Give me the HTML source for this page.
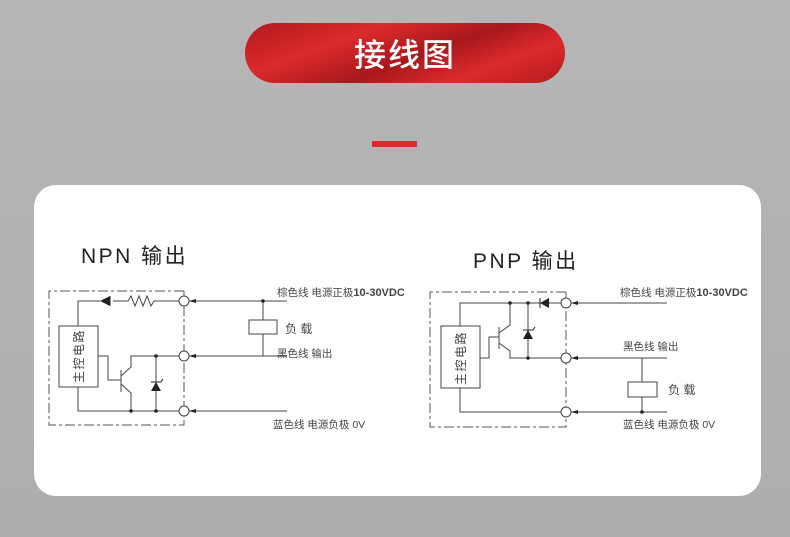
<!DOCTYPE html>
<html><head><meta charset="utf-8"><style>
html,body{margin:0;padding:0}
body{width:790px;height:537px;overflow:hidden;background:linear-gradient(#b6b6b6,#aeaeae);position:relative;font-family:"Liberation Sans","Noto Sans CJK SC",sans-serif}
.pill{position:absolute;left:245px;top:23px;width:320px;height:60px;border-radius:30px;background:linear-gradient(160deg,#b0191b 0%,#dc2a2d 30%,#a8181a 55%,#dc2a2d 75%,#b51b1d 100%);color:#fff;font-size:32px;font-weight:500;text-align:center;line-height:60px;letter-spacing:2px;font-family:"Noto Sans CJK SC",sans-serif}
.bar{position:absolute;left:372px;top:141px;width:45px;height:6px;background:#dc2b2d}
.card{position:absolute;left:34px;top:185px;width:727px;height:311px;background:#fff;border-radius:22px}
svg{position:absolute;left:0;top:0}
</style></head><body>
<div class="pill">接线图</div>
<div class="bar"></div>
<div class="card"></div>
<svg width="790" height="537" viewBox="0 0 790 537" font-family="Liberation Sans, Noto Sans CJK SC, sans-serif">
<g stroke="#444" stroke-width="1" fill="none">
<path d="M184 291 H49 V425 H184 V291" stroke-dasharray="10 3 3 3" stroke="#555"/>
<path d="M78 326 V301 H100 M113 301 H128 l3 -5 l4 10 l4 -10 l4 10 l4 -10 l4 10 l3 -5 H179"/>
<path d="M189 301 H287 M189 356 H287 M189 411 H287"/>
<path d="M263 301 V320 M263 334 V356"/>
<rect x="249" y="320" width="28" height="14" fill="#fff"/>
<rect x="59" y="326" width="39" height="61" fill="#fff"/>
<path d="M98 356 H108 V380 H121 M121 370 V392 M121 376 L131 367 V356 H179 M121 384 L131 393 V411"/>
<path d="M78 387 V411 H179 M156 356 V411"/>
</g>
<g fill="#222">
<path d="M100 296 V306 L110 301 Z" transform="rotate(180 105 301)"/>
<path d="M151 391 H161 L156 382 Z"/>
<circle cx="263" cy="301" r="1.8"/><circle cx="156" cy="356" r="1.8"/><circle cx="131" cy="411" r="1.8"/><circle cx="156" cy="411" r="1.8"/>
<path d="M189 301 l7 -2 v4 Z M189 356 l7 -2 v4 Z M189 411 l7 -2 v4 Z"/>
</g>
<path d="M110 296 V306 M151 382 H161 M161 382 l2 -3" stroke="#222"/>
<g fill="#fff" stroke="#444"><circle cx="184" cy="301" r="5"/><circle cx="184" cy="356" r="5"/><circle cx="184" cy="411" r="5"/></g>
<g stroke="#444" stroke-width="1" fill="none">
<path d="M566 292 H430 V427 H566 V292" stroke-dasharray="10 3 3 3" stroke="#555"/>
<path d="M460 326 V303 H561 M571 303 H667 M571 358 H667 M571 412 H667"/>
<path d="M642 358 V382 M642 397 V412"/>
<rect x="628" y="382" width="29" height="15" fill="#fff"/>
<rect x="441" y="326" width="39" height="62" fill="#fff"/>
<path d="M480 358 H489 V337 H499 M499 327 V349 M499 333 L510 325 V303 M499 343 L510 351 V358 H561 M528 303 V358"/>
<path d="M460 388 V412 H561"/>
</g>
<g fill="#222">
<path d="M540 303 L549 298 V308 Z"/>
<path d="M523 339 H533 L528 330 Z"/>
<circle cx="510" cy="303" r="1.8"/><circle cx="528" cy="303" r="1.8"/><circle cx="528" cy="358" r="1.8"/><circle cx="642" cy="412" r="1.8"/>
<path d="M571 303 l7 -2 v4 Z M571 358 l7 -2 v4 Z M571 412 l7 -2 v4 Z"/>
</g>
<path d="M540 298 V308 M523 330 H533 M533 330 l2 -3" stroke="#222"/>
<g fill="#fff" stroke="#444"><circle cx="566" cy="303" r="5"/><circle cx="566" cy="358" r="5"/><circle cx="566" cy="412" r="5"/></g>
<g fill="#222">
<text x="81" y="263" font-size="21" letter-spacing="2.5">NPN 输出</text>
<text x="473" y="268" font-size="21" letter-spacing="2.5">PNP 输出</text>
</g>
<g fill="#444" font-size="10.5">
<text x="277" y="296">棕色线 电源正极<tspan font-weight="bold" font-size="11">10-30VDC</tspan></text>
<text x="285" y="333" font-size="12">负 载</text>
<text x="277" y="357">黑色线 输出</text>
<text x="273" y="428">蓝色线 电源负极 0V</text>
<text x="620" y="296">棕色线 电源正极<tspan font-weight="bold" font-size="11">10-30VDC</tspan></text>
<text x="623" y="350">黑色线 输出</text>
<text x="668" y="394" font-size="12">负 载</text>
<text x="623" y="428">蓝色线 电源负极 0V</text>
</g>
<g fill="#444" font-size="12" letter-spacing="1.5">
<text transform="translate(83 383) rotate(-90)">主控电路</text>
<text transform="translate(465 385) rotate(-90)">主控电路</text>
</g>
</svg>
</body></html>
